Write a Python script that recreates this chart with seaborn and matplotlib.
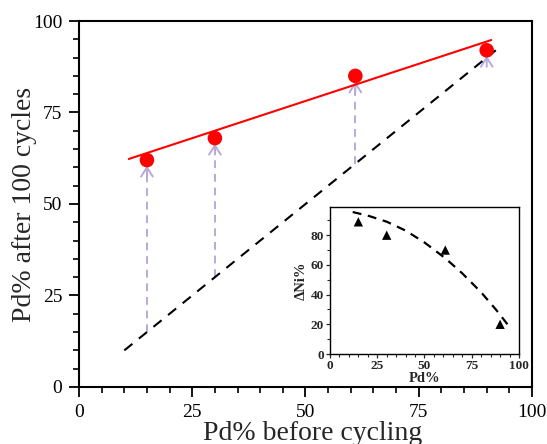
import numpy as np
import pandas as pd
import matplotlib
matplotlib.use("Agg")
import matplotlib.pyplot as plt
from matplotlib.ticker import MultipleLocator
import seaborn as sns

# Pd content before and after 100 cycles
pd_before = [15, 30, 61, 90]
pd_after = [62, 68, 85, 92]

# linear trend through the cycled samples (end points)
trend_x = [11, 91]
trend_y = [62.3, 94.8]

# y = x reference line (no change)
ref_x = [10, 92]
ref_y = [10, 92]

# inset: Ni loss vs Pd content
ni_pd = [15, 30, 61, 90]
ni_loss = [89, 80, 70, 20]
ni_curve_x = [12, 20, 30, 40, 50, 61, 70, 80, 88, 95]
ni_curve_y = [95.6, 93.2, 89.1, 83.1, 75.1, 64.5, 54.3, 41.5, 29.6, 18.2]

main_ticks = [0, 25, 50, 75, 100]
inset_xticks = [0, 25, 50, 75, 100]
inset_yticks = [0, 20, 40, 60, 80]

sns.set_theme(style="ticks")
plt.rcParams["font.family"] = "serif"
plt.rcParams["font.serif"] = ["Liberation Serif", "DejaVu Serif"]
plt.rcParams["mathtext.fontset"] = "stix"

fig = plt.figure(figsize=(5.47, 4.44), dpi=100)
ax = fig.add_axes([0.1444, 0.1284, 0.8282, 0.8243])

lavender = "#b9a9d9"

# arrows from the y = x line up to each measured value
for xb, ya in zip(pd_before, pd_after):
    ax.vlines(xb, xb, ya - 1.5, colors=lavender, linestyles=(0, (4, 3)), lw=1.4, zorder=1)
    ax.annotate("", xy=(xb, ya - 1.5), xytext=(xb, ya - 4.5),
                arrowprops=dict(arrowstyle="->,head_length=0.55,head_width=0.35",
                                color=lavender, lw=1.4, shrinkA=0, shrinkB=0),
                zorder=2)

sns.lineplot(x=ref_x, y=ref_y, ax=ax, color="black", lw=1.5,
             linestyle=(0, (5, 4)), zorder=2)
sns.lineplot(x=trend_x, y=trend_y, ax=ax, color="#ff0000", lw=1.5, zorder=3)
sns.scatterplot(x=pd_before, y=pd_after, ax=ax, color="#ff0000", s=110,
                edgecolor="none", zorder=4)

ax.set_xlim(0, 100)
ax.set_ylim(0, 100)
ax.set_xticks(main_ticks)
ax.set_yticks(main_ticks)
ax.xaxis.set_minor_locator(MultipleLocator(5))
ax.yaxis.set_minor_locator(MultipleLocator(5))
ax.tick_params(axis="both", which="major", direction="out", length=7, width=1.3,
               labelsize=14, color="black", labelcolor="black", pad=5)
ax.tick_params(axis="both", which="minor", direction="out", length=4, width=1.2,
               color="black")
ax.tick_params(top=False, right=False, which="both")
for s in ax.spines.values():
    s.set_linewidth(1.5)
    s.set_color("black")
ax.set_xlabel("Pd% before cycling", fontsize=20, labelpad=0)
ax.xaxis.label.set_x(0.515)
ax.set_ylabel("Pd% after 100 cycles", fontsize=20, labelpad=-3)

# inset
ins = fig.add_axes([0.6033, 0.2027, 0.3455, 0.3311])
sns.lineplot(x=ni_curve_x, y=ni_curve_y, ax=ins, color="black", lw=1.6,
             linestyle=(0, (4, 3)), zorder=2)
sns.scatterplot(x=ni_pd, y=ni_loss, ax=ins, color="black", marker="^", s=45,
                edgecolor="none", zorder=3)
ins.set_xlim(0, 100)
ins.set_ylim(0, 99)
ins.set_xticks(inset_xticks)
ins.set_yticks(inset_yticks)
ins.xaxis.set_minor_locator(MultipleLocator(5))
ins.yaxis.set_minor_locator(MultipleLocator(10))
ins.tick_params(axis="both", which="major", direction="out", length=3, width=0.9,
                labelsize=9.5, pad=1.5)
ins.tick_params(axis="both", which="minor", direction="out", length=2, width=0.8)
ins.tick_params(top=False, right=False, which="both")
for lab in ins.get_xticklabels() + ins.get_yticklabels():
    lab.set_fontweight("bold")
for s in ins.spines.values():
    s.set_linewidth(1.0)
    s.set_color("black")
ins.set_xlabel("Pd%", fontsize=10.5, fontweight="bold", labelpad=0)
ins.set_ylabel("ΔNi%", fontsize=10.5, fontweight="bold", labelpad=2)

fig.savefig("out.png", dpi=100)
